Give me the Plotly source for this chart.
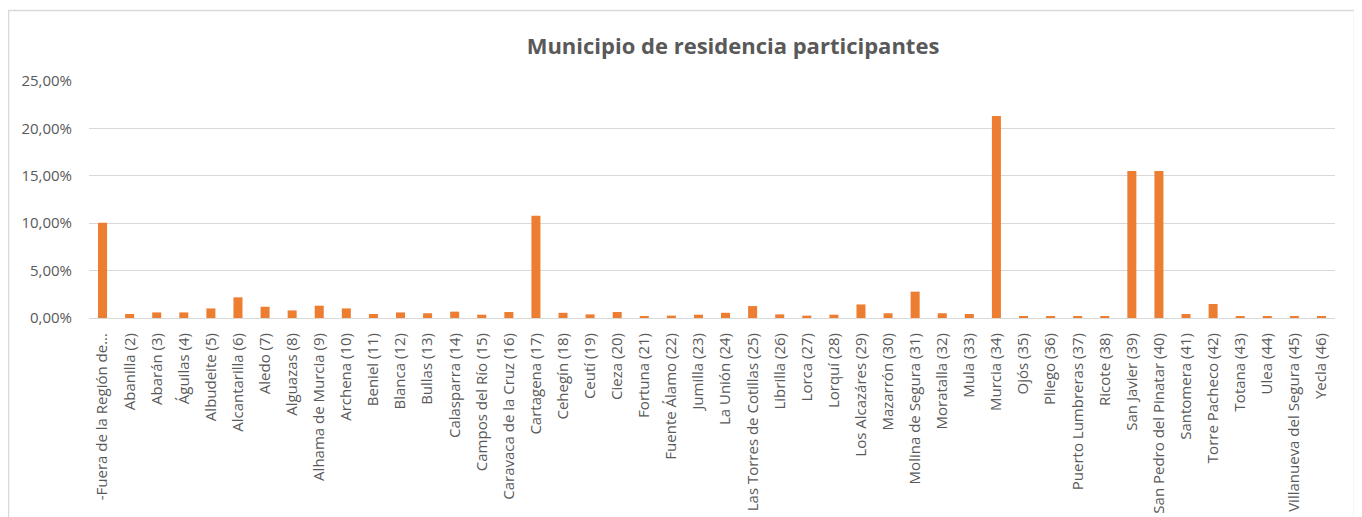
import plotly.graph_objects as go

municipios = [
    "-Fuera de la Región de...", "Abanilla (2)", "Abarán (3)", "Águilas (4)", "Albudeite (5)",
    "Alcantarilla (6)", "Aledo (7)", "Alguazas (8)", "Alhama de Murcia (9)", "Archena (10)",
    "Beniel (11)", "Blanca (12)", "Bullas (13)", "Calasparra (14)", "Campos del Río (15)",
    "Caravaca de la Cruz (16)", "Cartagena (17)", "Cehegín (18)", "Ceutí (19)", "Cieza (20)",
    "Fortuna (21)", "Fuente Álamo (22)", "Jumilla (23)", "La Unión (24)",
    "Las Torres de Cotillas (25)", "Librilla (26)", "Lorca (27)", "Lorquí (28)",
    "Los Alcazáres (29)", "Mazarrón (30)", "Molina de Segura (31)", "Moratalla (32)",
    "Mula (33)", "Murcia (34)", "Ojós (35)", "Pliego (36)", "Puerto Lumbreras (37)",
    "Ricote (38)", "San Javier (39)", "San Pedro del Pinatar (40)", "Santomera (41)",
    "Torre Pacheco (42)", "Totana (43)", "Ulea (44)", "Villanueva del Segura (45)",
    "Yecla (46)",
]

# porcentaje de participantes (%)
porcentaje = [
    10.04, 0.42, 0.59, 0.59, 1.01, 2.18, 1.19, 0.80, 1.30, 1.01,
    0.42, 0.59, 0.50, 0.67, 0.35, 0.63, 10.78, 0.55, 0.38, 0.63,
    0.18, 0.25, 0.35, 0.55, 1.26, 0.38, 0.25, 0.35, 1.43, 0.50,
    2.78, 0.50, 0.42, 21.30, 0.21, 0.21, 0.13, 0.21, 15.50, 15.50,
    0.42, 1.48, 0.21, 0.21, 0.13, 0.21,
]

gris = "#595959"
fuente = "Open Sans"

fig = go.Figure()
fig.add_trace(go.Bar(x=municipios, y=[v / 100 for v in porcentaje],
                     marker=dict(color="#ED7D31", line=dict(width=0))))

# la pagina tiene 8px de margen en el body
off = 8
W, H = 1362 - off, 517 - off
l, r, t = 89 - off, 1362 - 1335, 81 - off
b = H - (318 - off)
pw, ph = W - l - r, H - t - b

fig.update_layout(
    width=W, height=H,
    margin=dict(l=l, r=r, t=t, b=b),
    paper_bgcolor="white", plot_bgcolor="white",
    separators=",.",
    bargap=0.667,
    showlegend=False,
    font=dict(family=fuente, color=gris, size=15),
    title=dict(text="<b>Municipio de residencia participantes</b>",
               font=dict(family=fuente, size=22, color=gris),
               x=(733 - off) / W, xanchor="center", y=1 - (46 - off) / H, yanchor="middle"),
    shapes=[dict(type="rect", xref="paper", yref="paper",
                 x0=(8.5 - 89) / pw, x1=(1354.5 - 89) / pw,
                 y0=-(560 - 318) / ph, y1=(318 - 10.5) / ph,
                 line=dict(color="#D9D9D9", width=1.5), layer="below")],
)
fig.update_yaxes(range=[0, 0.25], dtick=0.05, tickformat=".2%",
                 showgrid=True, gridcolor="#D9D9D9", gridwidth=1,
                 zeroline=False, showline=False, ticks="",
                 ticklabelstandoff=16,
                 tickfont=dict(family=fuente, size=15, color=gris))
fig.update_xaxes(tickangle=-90, automargin=False, showline=True,
                 linecolor="#D9D9D9", linewidth=1, ticks="",
                 ticklabelstandoff=8,
                 tickfont=dict(family=fuente, size=15, color=gris))

fig.write_html("out.html")
